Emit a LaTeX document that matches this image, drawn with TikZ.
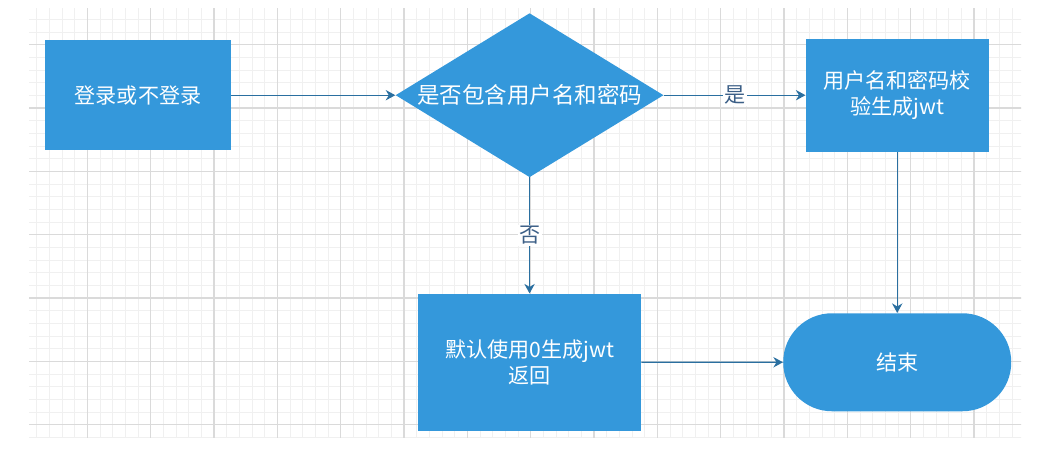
\documentclass[tikz,border=0pt]{standalone}
\usepackage{fontspec}
\usepackage{tikz}
\usetikzlibrary{arrows.meta,positioning,shapes.geometric}
\newfontfamily\cjk{Noto Sans CJK SC}
\definecolor{flowblue}{RGB}{52,152,219}
\definecolor{linkblue}{RGB}{42,111,160}
\definecolor{labelblue}{RGB}{60,95,135}
\definecolor{gridminor}{RGB}{240,240,240}
\definecolor{gridmajor}{RGB}{218,218,218}
\tikzset{
 procbox/.style={
 rectangle,
 fill=flowblue,
 draw=none,
 align=center,
 text=white,
 inner sep=2pt,
 font=\cjk\fontsize{15}{18.9}\selectfont
 },
 choice/.style={
 diamond,
 fill=flowblue,
 draw=none,
 align=center,
 text=white,
 aspect=1.63,
 inner sep=0pt,
 minimum width=6.7cm,
 minimum height=4.1cm,
 font=\cjk\fontsize{16}{20}\selectfont
 },
 terminal/.style={
 rectangle,
 rounded corners=1.22cm,
 fill=flowblue,
 draw=none,
 align=center,
 text=white,
 minimum width=5.7cm,
 minimum height=2.45cm,
 font=\cjk\fontsize{15}{18.9}\selectfont
 },
 link/.style={-{Stealth[length=2.4mm,width=2.6mm]}, line width=0.8pt, draw=linkblue},
 linklabel/.style={fill=white, inner sep=1pt, text=labelblue, font=\cjk\fontsize{15}{18}\selectfont}
}

\begin{document}
\begin{tikzpicture}
 \useasboundingbox (0,0) rectangle (26.275,-11.325);

 % background grid
 \begin{scope}
 \clip (0.725,-0.225) rectangle (25.525,-10.925);
 \begin{scope}[shift={(0.6,-1.1175)}]
 \draw[gridminor, line width=0.7pt, step=0.316667] (-1,-11) grid (26,2);
 \draw[gridmajor, line width=0.8pt, step=1.583333] (-1,-11) grid (26,2);
 \end{scope}
 \end{scope}

 \node[procbox, minimum width=4.65cm, minimum height=2.75cm] (login) at (3.45,-2.38) {登录或不登录};
 \node[choice, right=4.1cm of login] (check) {是否包含用户名和密码};
 \node[procbox, minimum width=4.575cm, minimum height=2.825cm, right=3.54cm of check] (verify) {用户名和密码校\\验生成jwt};
 \node[procbox, minimum width=5.575cm, minimum height=3.425cm, below=2.9cm of check] (fallback) {默认使用0生成jwt\\返回};
 \node[terminal, below=4.025cm of verify] (done) {结束};

 \draw[link] (login) -- (check);
 \draw[link] (check) -- node[linklabel] {是} (verify);
 \draw[link] (check) -- node[linklabel] {否} (fallback);
 \draw[link] (verify) -- (done);
 \draw[link] (fallback) -- (done);
\end{tikzpicture}
\end{document}
